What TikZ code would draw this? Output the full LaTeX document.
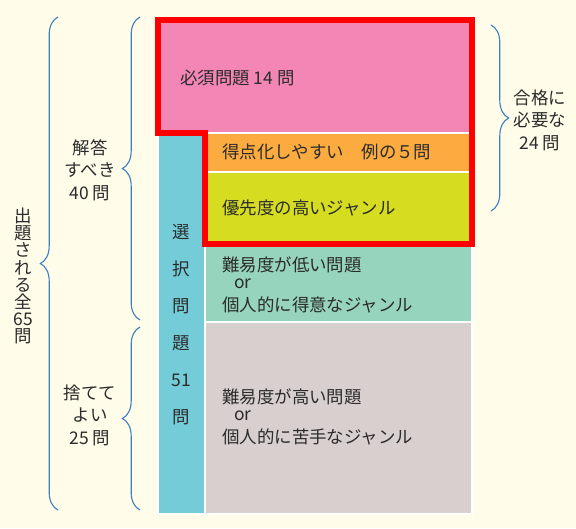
\documentclass[tikz,border=0pt]{standalone}
\usepackage{fontspec}
\setmainfont{Noto Sans CJK JP}
\usetikzlibrary{decorations.pathreplacing}
\definecolor{paper}{HTML}{FFFCEA}
\definecolor{pinkband}{HTML}{F386B5}
\definecolor{orangeband}{HTML}{FBAB3F}
\definecolor{limeband}{HTML}{D6DD20}
\definecolor{cyanband}{HTML}{74CCD8}
\definecolor{mintband}{HTML}{96D4BD}
\definecolor{greyband}{HTML}{D8D0CF}
\definecolor{braceblue}{HTML}{3D7FC1}
\definecolor{ink}{HTML}{2B2B2B}
\tikzset{
  band/.style={draw=white, line width=0.3mm},
  frame/.style={draw=red, line width=1.3mm, line join=miter},
  bracket/.style={draw=braceblue, line width=0.28mm, decorate, decoration={brace, amplitude=4.4mm}},
  boxtext/.style={anchor=west, inner sep=0pt, align=left, text=ink, font=\fontsize{12.4pt}{16.4pt}\selectfont},
  sidetext/.style={inner sep=0pt, align=center, text=ink, font=\fontsize{12.4pt}{16pt}\selectfont},
}
\begin{document}
\begin{tikzpicture}[x=0.25mm, y=-0.25mm]
\useasboundingbox (0,0) rectangle (576,528);
\fill[paper] (0,0) rectangle (576,528);
% bands
\draw[band, fill=pinkband] (158,20) rectangle (472,133);
\draw[band, fill=cyanband] (158,133) rectangle (205,514);
\draw[band, fill=orangeband] (205,133) rectangle (472,172);
\draw[band, fill=limeband] (205,172) rectangle (472,244);
\draw[band, fill=mintband] (205,244) rectangle (472,322);
\draw[band, fill=greyband] (205,322) rectangle (472,514);
\draw[frame] (158,20) -- (472,20) -- (472,244) -- (205,244) -- (205,133) -- (158,133) -- cycle;
% texts in bands
\node[boxtext] (must) at (180,78) {必須問題 14 問};
\node[boxtext] (easy) at (222,152) {得点化しやすい　例の５問};
\node[boxtext] (prior) at (222,208) {優先度の高いジャンル};
\node[boxtext] (good) at (222,285) {難易度が低い問題\\[-4.3pt]\hspace*{3mm}or\\個人的に得意なジャンル};
\node[boxtext] (hard) at (222,417) {難易度が高い問題\\[-4.3pt]\hspace*{3mm}or\\個人的に苦手なジャンル};
\node[sidetext, font=\fontsize{12.4pt}{26.3pt}\selectfont] (choice) at (181,325) {選\\択\\問\\題\\51\\問};
% braces
\coordinate (allbot) at (58,510);
\coordinate (alltop) at (58,17);
\coordinate (anstop) at (140,17);
\coordinate (ansbot) at (140,320);
\coordinate (droptop) at (140,327);
\coordinate (dropbot) at (140,510);
\coordinate (passtop) at (491,25);
\coordinate (passbot) at (491,211);
\draw[bracket] (allbot) -- (alltop);
\draw[bracket] (ansbot) -- (anstop);
\draw[bracket] (dropbot) -- (droptop);
\draw[bracket] (passtop) -- (passbot);
\node[sidetext, font=\fontsize{12.4pt}{12.2pt}\selectfont] (total) at (23,276) {出\\題\\さ\\れ\\る\\全\\65\\問};
\node[sidetext] (answer) at (90,170) {解答\\すべき\\40 問};
\node[sidetext] (drop) at (90,415) {捨てて\\よい\\25 問};
\node[sidetext] (pass) at (540,120) {合格に\\必要な\\24 問};
\end{tikzpicture}
\end{document}
